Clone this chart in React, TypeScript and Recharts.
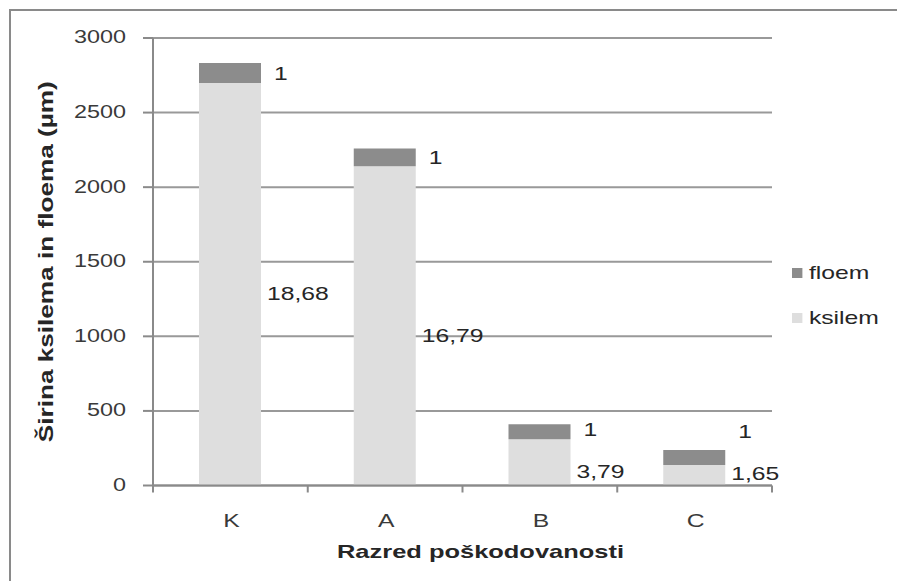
import React from 'react';
import { BarChart, Bar, XAxis, YAxis, CartesianGrid, Legend, LabelList } from 'recharts';

const categories = ['K', 'A', 'B', 'C'];
const ksilemValues = [2698, 2141, 310, 137];
const floemValues = [134, 119, 100, 101];
const ksilemLabels = ['18,68', '16,79', '3,79', '1,65'];
const floemLabels = ['1', '1', '1', '1'];
const yTicks = [0, 500, 1000, 1500, 2000, 2500, 3000];
const seriesNames = { ksilem: 'ksilem', floem: 'floem' };
const xTitle = 'Razred poškodovanosti';
const yTitle = 'Širina ksilema in floema (µm)';

const data = categories.map((c, i) => ({
  cat: c,
  ksilem: ksilemValues[i],
  floem: floemValues[i],
  ksLabel: ksilemLabels[i],
  flLabel: floemLabels[i],
}));

const W = 897;
const H = 581;
const M_TOP = 38;
const X_AXIS_H = 95.5;
const BASE_Y = H - X_AXIS_H;
const FONT = '"Liberation Sans", Arial, sans-serif';
const KS_COLOR = '#dedede';
const FL_COLOR = '#8c8c8c';
const AXIS_COLOR = '#8a8a8a';
const SX = 1.3;

const SText = (props: any) => {
  const { x, y, anchor = 'start', size = 18, fill = '#262626', weight = 'normal', children } = props;
  return (
    <g transform={`translate(${x},${y}) scale(${SX},1)`}>
      <text x={0} y={0} dy="0.36em" textAnchor={anchor} fontSize={size} fontWeight={weight} fill={fill} fontFamily={FONT}>
        {children}
      </text>
    </g>
  );
};

const ksLabelY = (segTop: number) => Math.min((segTop + BASE_Y) / 2 + 9, BASE_Y - 12);

const KsilemLabel = (props: any) => {
  const { x, y, width, value } = props;
  return (
    <SText x={x + width + 6} y={ksLabelY(y)} size={19}>
      {value}
    </SText>
  );
};

const FloemLabel = (props: any) => {
  const { x, y, width, height, value } = props;
  const segMid = y + height / 2;
  const cy = Math.min(segMid, ksLabelY(y + height) - 42);
  return (
    <SText x={x + width + 13} y={cy} size={19}>
      {value}
    </SText>
  );
};

const XTick = (props: any) => {
  const { x, payload, index, visibleTicksCount } = props;
  const band = 154.75;
  return (
    <g>
      <line x1={x - band / 2} y1={BASE_Y} x2={x - band / 2} y2={BASE_Y + 7} stroke={AXIS_COLOR} strokeWidth={2} />
      {index === visibleTicksCount - 1 && (
        <line x1={x + band / 2} y1={BASE_Y} x2={x + band / 2} y2={BASE_Y + 7} stroke={AXIS_COLOR} strokeWidth={2} />
      )}
      <SText x={x + 1} y={BASE_Y + 34.5} anchor="middle" size={19} fill="#3a3a3a">
        {payload.value}
      </SText>
    </g>
  );
};

const YTick = (props: any) => {
  const { y, payload } = props;
  return (
    <SText x={126} y={y - 1} anchor="end" size={18} fill="#3a3a3a">
      {payload.value}
    </SText>
  );
};

const XTitle = (props: any) => {
  const vb = props.viewBox || { x: 153, width: 619, y: BASE_Y };
  const cx = vb.x + vb.width / 2 + 18;
  return (
    <text
      x={cx}
      y={558}
      textAnchor="middle"
      fontSize={19}
      fontWeight="bold"
      fill="#262626"
      fontFamily={FONT}
      textLength={287}
      lengthAdjust="spacingAndGlyphs"
    >
      {xTitle}
    </text>
  );
};

const YTitle = () => {
  const cx = 46;
  const cy = (M_TOP + BASE_Y) / 2;
  return (
    <text
      x={cx}
      y={cy}
      transform={`rotate(-90 ${cx} ${cy})`}
      textAnchor="middle"
      dy="0.36em"
      fontSize={20}
      fontWeight="bold"
      fill="#262626"
      fontFamily={FONT}
      textLength={361}
      lengthAdjust="spacingAndGlyphs"
    >
      {yTitle}
    </text>
  );
};

const LegendContent = (props: any) => {
  const payload = props.payload || [];
  const ordered = ['floem', 'ksilem']
    .map((k) => payload.find((p: any) => p.dataKey === k))
    .filter(Boolean);
  return (
    <div style={{ fontFamily: FONT, transform: `scale(${SX},1)`, transformOrigin: 'left top' }}>
      {ordered.map((p: any, i: number) => (
        <div key={i} style={{ display: 'flex', alignItems: 'center', height: 45 }}>
          <div style={{ width: 8, height: 10, background: p.color, marginRight: 5 }} />
          <span style={{ fontSize: 19, color: '#262626' }}>{p.value}</span>
        </div>
      ))}
    </div>
  );
};

export default function App() {
  return (
    <div style={{ position: 'absolute', left: 0, top: 0, width: W, height: H, background: '#fff', overflow: 'hidden' }}>
      <div
        style={{
          position: 'absolute',
          left: 9,
          top: 8.5,
          width: W,
          height: H,
          borderTop: '2px solid #8a8a8a',
          borderLeft: '2px solid #8a8a8a',
        }}
      />
      <div style={{ position: 'absolute', left: 0, top: 0 }}>
        <BarChart width={W} height={H} data={data} margin={{ top: M_TOP, right: 125, bottom: 0, left: 0 }} barSize={62}>
          <CartesianGrid vertical={false} stroke="#999" strokeWidth={2} />
          <XAxis
            dataKey="cat"
            height={X_AXIS_H}
            axisLine={{ stroke: AXIS_COLOR, strokeWidth: 2 }}
            tickLine={false}
            tickSize={0}
            tickMargin={0}
            tick={<XTick />}
            interval={0}
            label={<XTitle />}
          />
          <YAxis
            width={153}
            domain={[0, 3000]}
            ticks={yTicks}
            interval={0}
            tickSize={10}
            tickMargin={14}
            axisLine={{ stroke: AXIS_COLOR, strokeWidth: 2 }}
            tickLine={{ stroke: AXIS_COLOR, strokeWidth: 2 }}
            tick={<YTick />}
            label={<YTitle />}
          />
          <Legend
            layout="horizontal"
            verticalAlign="middle"
            align="center"
            wrapperStyle={{ left: 792, top: 250, width: 110, height: 90 }}
            content={<LegendContent />}
          />
          <Bar dataKey="ksilem" name={seriesNames.ksilem} stackId="s" fill={KS_COLOR} isAnimationActive={false}>
            <LabelList dataKey="ksLabel" content={<KsilemLabel />} />
          </Bar>
          <Bar dataKey="floem" name={seriesNames.floem} stackId="s" fill={FL_COLOR} isAnimationActive={false}>
            <LabelList dataKey="flLabel" content={<FloemLabel />} />
          </Bar>
        </BarChart>
      </div>
    </div>
  );
}
